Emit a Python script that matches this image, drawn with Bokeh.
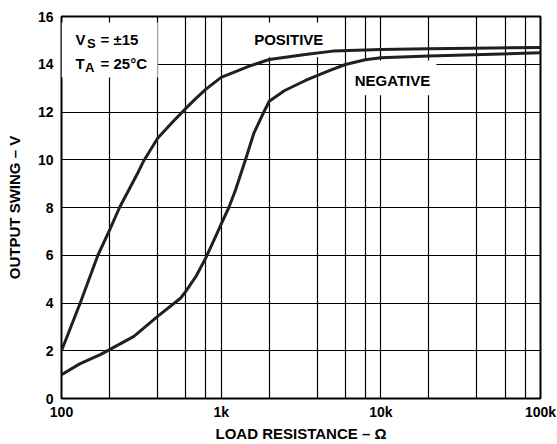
from bokeh.plotting import figure
from bokeh.models import FixedTicker, Label, BoxAnnotation, ColumnDataSource
from bokeh.embed import file_html
from bokeh.resources import INLINE

# ---- data ----
pos_r = [100, 131, 169, 200, 231, 298, 327, 400, 500, 600, 690, 800, 1000,
         1500, 2000, 3370, 5000, 10000, 20000, 50000, 100000]
pos_v = [2.0, 4.0, 6.0, 7.05, 8.0, 9.4, 9.95, 10.9, 11.6, 12.15, 12.55, 12.95, 13.45,
         13.92, 14.2, 14.41, 14.55, 14.62, 14.65, 14.68, 14.7]

neg_r = [100, 130, 175, 200, 284, 400, 556, 600, 700, 800, 933, 1000, 1117, 1230,
         1420, 1600, 1850, 2000, 2500, 3370, 4800, 6000, 8000, 10000, 20000, 50000, 100000]
neg_v = [1.0, 1.45, 1.84, 2.05, 2.6, 3.44, 4.2, 4.48, 5.15, 5.88, 6.85, 7.3, 8.0, 8.73,
         10.0, 11.1, 12.0, 12.45, 12.9, 13.32, 13.74, 13.99, 14.19, 14.27, 14.35, 14.42, 14.48]

x_ticks = [100, 1000, 10000, 100000]
x_tick_labels = ["100", "1k", "10k", "100k"]
x_grid = [100, 200, 400, 600, 800, 1000, 2000, 4000, 6000, 8000, 10000,
          20000, 40000, 60000, 80000, 100000]
y_ticks = [0, 2, 4, 6, 8, 10, 12, 14, 16]

INK = "#231f20"
FONT = "Liberation Sans"

p = figure(width=557, height=444, x_axis_type="log", x_range=(100, 100000), y_range=(0, 16),
           output_backend="svg", toolbar_location=None,
           min_border_left=61, min_border_right=17, min_border_top=16, min_border_bottom=46)
p.background_fill_color = "white"
p.border_fill_color = "white"
p.outline_line_color = "black"
p.outline_line_width = 2

p.xaxis.ticker = FixedTicker(ticks=x_ticks)
p.xaxis.major_label_overrides = {t: l for t, l in zip(x_ticks, x_tick_labels)}
p.xgrid.ticker = FixedTicker(ticks=x_grid)
p.yaxis.ticker = FixedTicker(ticks=y_ticks)

for g in (p.xgrid, p.ygrid):
    g.grid_line_color = "black"
    g.grid_line_width = 1.2
    g.grid_line_alpha = 1

for ax in (p.xaxis, p.yaxis):
    ax.axis_line_color = None
    ax.major_tick_line_color = None
    ax.minor_tick_line_color = None
    ax.major_tick_out = 0
    ax.major_tick_in = 0
    ax.minor_tick_out = 0
    ax.minor_tick_in = 0
    ax.major_label_text_font = FONT
    ax.major_label_text_font_style = "bold"
    ax.major_label_text_font_size = "14px"
    ax.major_label_text_color = "black"
    ax.axis_label_text_font = FONT
    ax.axis_label_text_font_style = "bold"
    ax.axis_label_text_font_size = "15px"
    ax.axis_label_text_color = "black"

p.xaxis.axis_label = "LOAD RESISTANCE – Ω"
p.yaxis.axis_label = "OUTPUT SWING – V"
p.xaxis.major_label_standoff = 5
p.xaxis.axis_label_standoff = 2
p.yaxis.major_label_standoff = 8
p.yaxis.axis_label_standoff = 12

# white boxes behind the texts (cut the grid, sit under the curves)
for (l, r, b, t) in [(100, 400, 13.45, 15.75), (1419, 4830, 14.29, 15.75), (6270, 22290, 12.7, 14.16)]:
    p.add_layout(BoxAnnotation(left=l, right=r, bottom=b, top=t, fill_color="white", fill_alpha=1,
                               line_color=None, level="underlay"))

src_pos = ColumnDataSource(dict(r=pos_r, v=pos_v))
src_neg = ColumnDataSource(dict(r=neg_r, v=neg_v))
p.line("r", "v", source=src_pos, line_color=INK, line_width=3, line_join="round")
p.line("r", "v", source=src_neg, line_color=INK, line_width=3, line_join="round")

def lab(x, y, text, size="15px", xo=0, yo=0, align="left"):
    p.add_layout(Label(x=x, y=y, text=text, x_offset=xo, y_offset=yo, text_font=FONT,
                       text_font_style="bold", text_font_size=size, text_color="black",
                       text_align=align, text_baseline="middle"))

lab(2650, 15.02, "POSITIVE", align="center")
lab(11830, 13.33, "NEGATIVE", align="center")
lab(122.4, 15.02, "V")
lab(122.4, 15.02, "S", size="13px", xo=11.5, yo=-4)
lab(122.4, 15.02, "= ±15", xo=25)
lab(122.4, 14.02, "T")
lab(122.4, 14.02, "A", size="13px", xo=9.5, yo=-4)
lab(122.4, 14.02, "= 25°C", xo=25)

open("out.html", "w").write(file_html(p, INLINE))
